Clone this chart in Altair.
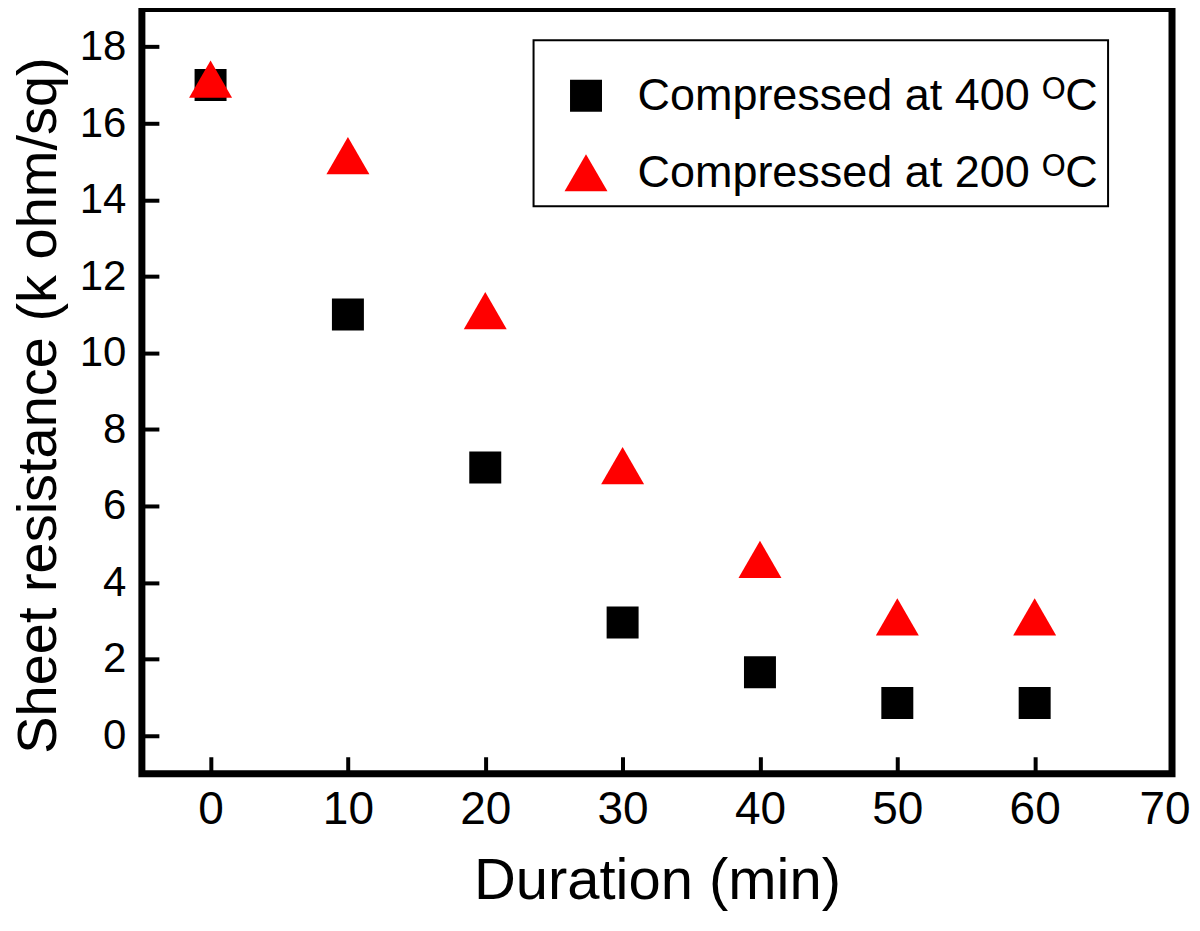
import altair as alt
import pandas as pd

durations = [0, 10, 20, 30, 40, 50, 60]
res_400 = [17.0, 11.0, 7.0, 2.95, 1.65, 0.85, 0.85]
res_200 = [17.15, 15.15, 11.1, 7.05, 4.6, 3.1, 3.1]
series_names = ["Compressed at 400 \u1d3cC", "Compressed at 200 \u1d3cC"]
x_ticks = [0, 10, 20, 30, 40, 50, 60, 70]
y_ticks = [0, 2, 4, 6, 8, 10, 12, 14, 16, 18]

rows = []
for d, v in zip(durations, res_400):
    rows.append({"Duration": d, "Resistance": v, "Series": series_names[0]})
for d, v in zip(durations, res_200):
    rows.append({"Duration": d, "Resistance": v, "Series": series_names[1]})
df = pd.DataFrame(rows)

FONT = "Liberation Sans"

legend = alt.Legend(title=" ", titleFontSize=14, titlePadding=9,
                    orient="none", legendX=392, legendY=32,
                    strokeColor="black", padding=10,
                    labelFontSize=45, labelFont=FONT, labelColor="black",
                    labelLimit=800, symbolSize=900, rowPadding=31,
                    symbolOffset=20, labelOffset=29, symbolStrokeWidth=0)

chart = alt.Chart(df).mark_point(filled=True, opacity=1).encode(
    x=alt.X("Duration:Q",
            scale=alt.Scale(domain=[-5, 70], nice=False, zero=False),
            axis=alt.Axis(title="Duration (min)", values=x_ticks, offset=-17,
                          tickSize=17, tickWidth=4, tickColor="black",
                          domain=False, grid=False, labelPadding=14,
                          labelFontSize=46, titleFontSize=58, titlePadding=20,
                          labelFont=FONT, titleFont=FONT, labelColor="black",
                          titleColor="black", titleFontWeight="normal",
                          labelFlush=1, labelFlushOffset=18)),
    y=alt.Y("Resistance:Q",
            scale=alt.Scale(domain=[-1, 19], nice=False, zero=False),
            axis=alt.Axis(title="Sheet resistance (k ohm/sq)", values=y_ticks, offset=-17,
                          tickSize=17, tickWidth=4, tickColor="black",
                          domain=False, grid=False, labelPadding=16,
                          labelFontSize=42, titleFontSize=56, titlePadding=12,
                          titleY=397,
                          labelFont=FONT, titleFont=FONT, labelColor="black",
                          titleColor="black", titleFontWeight="normal",
                          labelFlush=False)),
    color=alt.Color("Series:N",
                    scale=alt.Scale(domain=series_names, range=["black", "red"]),
                    legend=legend),
    shape=alt.Shape("Series:N",
                    scale=alt.Scale(domain=series_names, range=["square", "triangle-up"]),
                    legend=legend),
    size=alt.Size("Series:N",
                  scale=alt.Scale(domain=series_names, range=[1024, 1849]),
                  legend=None),
).properties(
    width=1031,
    height=766,
    padding={"left": 134, "top": 0, "right": 20, "bottom": 140},
    autosize=alt.AutoSizeParams(type="none"),
).configure_view(
    stroke="black", strokeWidth=7
).configure_legend(
    strokeWidth=2
)

chart.save("out.html", embed_options={"renderer": "svg", "actions": False})
